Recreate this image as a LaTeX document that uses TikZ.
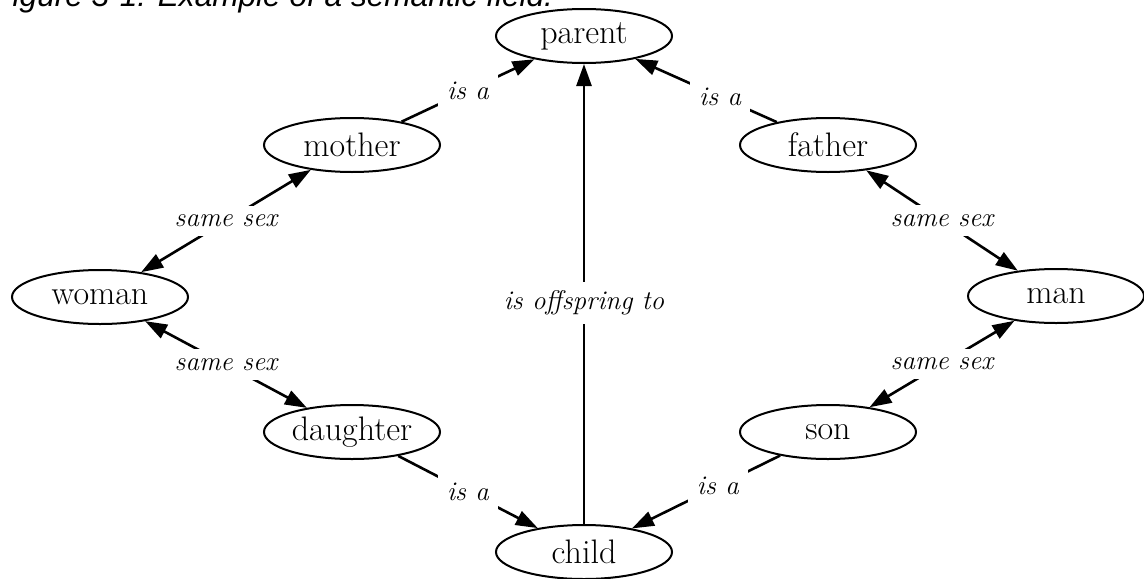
\documentclass[tikz,border=0pt]{standalone}
\usepackage{fontspec}
\newfontfamily\captionfont{Liberation Sans}
\usetikzlibrary{arrows.meta,shapes.geometric}

\begin{document}
\begin{tikzpicture}[
  x=0.5pt, y=-0.5pt,
  concept/.style={draw, ellipse, line width=1pt, minimum width=88pt, minimum height=27pt, inner sep=0pt, font=\fontsize{17}{20}\selectfont},
  rel/.style={fill=white, inner sep=4.5pt, font=\itshape\fontsize{13.5}{16}\selectfont},
  isa/.style={-{Triangle[length=11pt,width=7.5pt]}, line width=1.3pt},
  pair/.style={{Triangle[length=11pt,width=7.5pt]}-{Triangle[length=11pt,width=7.5pt]}, line width=1.3pt}
]
\useasboundingbox (0,0) rectangle (1144,578);

\node[anchor=base west, inner sep=0pt, font=\captionfont\itshape\fontsize{15.8}{19}\selectfont] (title) at (-7,6) {Figure 3-1: Example of a semantic field.};

\node[concept] (parent) at (584,36) {parent};
\node[concept] (mother) at (352,145) {mother};
\node[concept] (father) at (828,145) {father};
\node[concept] (woman) at (100,297) {woman};
\node[concept] (man) at (1056,296) {man};
\node[concept] (daughter) at (352,432) {daughter};
\node[concept] (son) at (828,432) {son};
\node[concept] (child) at (584,552) {child};

\draw[isa] (mother) -- node[rel] {is a} (parent);
\draw[isa] (father) -- node[rel, pos=0.4] {is a} (parent);
\draw[pair] (woman) -- node[rel] {same sex} (mother);
\draw[pair] (man) -- node[rel] {same sex} (father);
\draw[pair] (woman) -- node[rel] {same sex} (daughter);
\draw[pair] (man) -- node[rel] {same sex} (son);
\draw[isa] (daughter) -- node[rel] {is a} (child);
\draw[isa] (son) -- node[rel, pos=0.42] {is a} (child);
\draw[isa] (child) -- node[rel, pos=0.48] {is offspring to} (parent);

\end{tikzpicture}
\end{document}
